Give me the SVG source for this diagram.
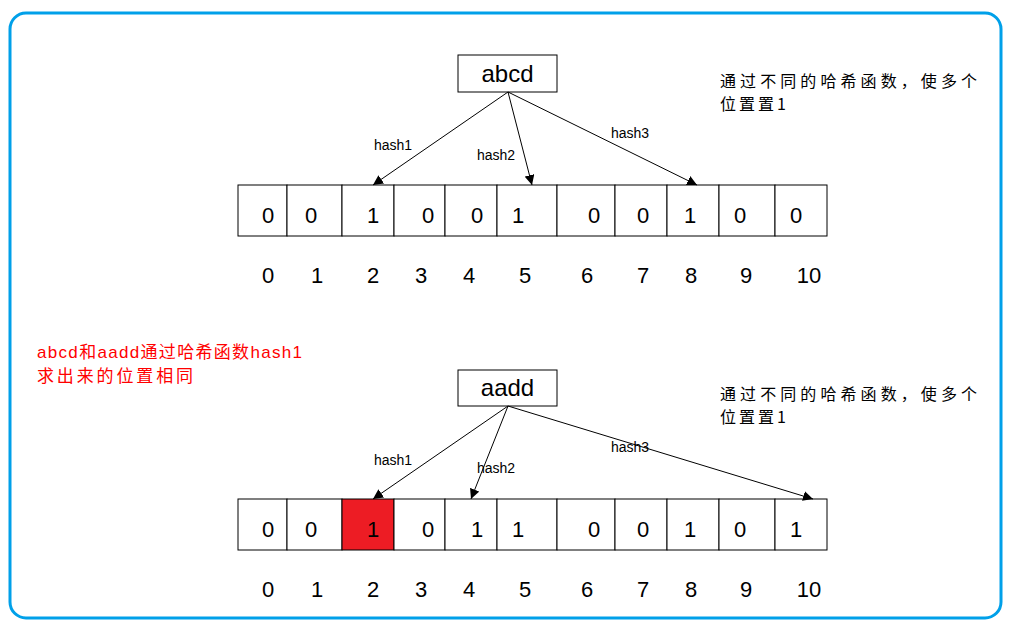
<svg xmlns="http://www.w3.org/2000/svg" width="1017" height="628" viewBox="0 0 1017 628">
<style>
.frame{fill:none;stroke:#00A0E9;stroke-width:3}
.box{fill:#fff;stroke:#000;stroke-width:1}
.cell{fill:#fff;stroke:#000;stroke-width:1}
.hot{fill:#ED1C24;stroke:#000;stroke-width:1}
.key{font-family:"Liberation Sans",Arial,sans-serif;font-size:24px;fill:#000;text-anchor:middle}
.val{font-family:"Liberation Sans",Arial,sans-serif;font-size:22px;fill:#000;text-anchor:middle}
.idx{font-family:"Liberation Sans",Arial,sans-serif;font-size:22px;fill:#000;text-anchor:middle}
.lbl{font-family:"Liberation Sans",Arial,sans-serif;font-size:14px;fill:#000}
.note{font-family:"Noto Sans CJK SC","Liberation Sans",sans-serif;font-size:16px;fill:#000}
.red{font-family:"Liberation Sans","Noto Sans CJK SC",sans-serif;font-size:17px;fill:#FF0000}
.conn{stroke:#000;stroke-width:1;fill:none;marker-end:url(#ah)}
</style>
<defs>
<marker id="ah" viewBox="0 0 10 10" refX="10" refY="5" markerWidth="10" markerHeight="10" markerUnits="userSpaceOnUse" orient="auto">
<path d="M0,0 L10,5 L0,10 z" fill="#000"/>
</marker>
</defs>
<rect x="0" y="0" width="1017" height="628" fill="#fff"/>
<rect class="frame" x="10" y="13" width="991" height="605" rx="16" ry="16"/>

<g id="note-red">
<text class="red" x="37" y="358" textLength="265" lengthAdjust="spacing">abcd和aadd通过哈希函数hash1</text>
<text class="red" x="37" y="382" textLength="156" lengthAdjust="spacing">求出来的位置相同</text>
</g>

<g id="key-abcd">
<rect class="box" x="458" y="55" width="99" height="37"/>
<text class="key" x="507.5" y="82">abcd</text>
</g>
<g id="note-1">
<text class="note" x="720" y="87" textLength="257" lengthAdjust="spacing">通过不同的哈希函数，使多个</text>
<text class="note" x="720" y="110" textLength="66" lengthAdjust="spacing">位置置1</text>
</g>

<g id="array-1">
<rect class="cell" x="238" y="185" width="49" height="51"/>
<rect class="cell" x="287" y="185" width="55" height="51"/>
<rect class="cell" x="342" y="185" width="52" height="51"/>
<rect class="cell" x="394" y="185" width="51" height="51"/>
<rect class="cell" x="445" y="185" width="52" height="51"/>
<rect class="cell" x="497" y="185" width="60" height="51"/>
<rect class="cell" x="557" y="185" width="58" height="51"/>
<rect class="cell" x="615" y="185" width="52" height="51"/>
<rect class="cell" x="667" y="185" width="52" height="51"/>
<rect class="cell" x="719" y="185" width="56" height="51"/>
<rect class="cell" x="775" y="185" width="52" height="51"/>
<text class="val" x="268" y="223">0</text>
<text class="val" x="311" y="223">0</text>
<text class="val" x="373" y="223">1</text>
<text class="val" x="428" y="223">0</text>
<text class="val" x="477" y="223">0</text>
<text class="val" x="518" y="223">1</text>
<text class="val" x="594" y="223">0</text>
<text class="val" x="643" y="223">0</text>
<text class="val" x="690" y="223">1</text>
<text class="val" x="740" y="223">0</text>
<text class="val" x="796" y="223">0</text>
</g>
<g id="index-1">
<text class="idx" x="268" y="283">0</text>
<text class="idx" x="317" y="283">1</text>
<text class="idx" x="373" y="283">2</text>
<text class="idx" x="421" y="283">3</text>
<text class="idx" x="469" y="283">4</text>
<text class="idx" x="525" y="283">5</text>
<text class="idx" x="587" y="283">6</text>
<text class="idx" x="643" y="283">7</text>
<text class="idx" x="691" y="283">8</text>
<text class="idx" x="746" y="283">9</text>
<text class="idx" x="809" y="283">10</text>
</g>

<g id="key-aadd">
<rect class="box" x="458" y="370" width="99" height="36"/>
<text class="key" x="507.5" y="396">aadd</text>
</g>
<g id="note-2">
<text class="note" x="720" y="400" textLength="257" lengthAdjust="spacing">通过不同的哈希函数，使多个</text>
<text class="note" x="720" y="423" textLength="66" lengthAdjust="spacing">位置置1</text>
</g>

<g id="array-2">
<rect class="cell" x="238" y="499" width="49" height="51"/>
<rect class="cell" x="287" y="499" width="55" height="51"/>
<rect class="hot" x="342" y="499" width="52" height="51"/>
<rect class="cell" x="394" y="499" width="51" height="51"/>
<rect class="cell" x="445" y="499" width="52" height="51"/>
<rect class="cell" x="497" y="499" width="60" height="51"/>
<rect class="cell" x="557" y="499" width="58" height="51"/>
<rect class="cell" x="615" y="499" width="52" height="51"/>
<rect class="cell" x="667" y="499" width="52" height="51"/>
<rect class="cell" x="719" y="499" width="56" height="51"/>
<rect class="cell" x="775" y="499" width="52" height="51"/>
<text class="val" x="268" y="537">0</text>
<text class="val" x="311" y="537">0</text>
<text class="val" x="373" y="537" fill="#555">1</text>
<text class="val" x="428" y="537">0</text>
<text class="val" x="477" y="537">1</text>
<text class="val" x="518" y="537">1</text>
<text class="val" x="594" y="537">0</text>
<text class="val" x="643" y="537">0</text>
<text class="val" x="690" y="537">1</text>
<text class="val" x="740" y="537">0</text>
<text class="val" x="796" y="537">1</text>
</g>
<g id="index-2">
<text class="idx" x="268" y="597">0</text>
<text class="idx" x="317" y="597">1</text>
<text class="idx" x="373" y="597">2</text>
<text class="idx" x="421" y="597">3</text>
<text class="idx" x="469" y="597">4</text>
<text class="idx" x="525" y="597">5</text>
<text class="idx" x="587" y="597">6</text>
<text class="idx" x="643" y="597">7</text>
<text class="idx" x="691" y="597">8</text>
<text class="idx" x="746" y="597">9</text>
<text class="idx" x="809" y="597">10</text>
</g>

<g id="connectors">
<line class="conn" x1="508" y1="92" x2="373" y2="185"/>
<line class="conn" x1="508" y1="92" x2="532" y2="185"/>
<line class="conn" x1="508" y1="92" x2="697" y2="185"/>
<line class="conn" x1="508" y1="406" x2="373" y2="499"/>
<line class="conn" x1="508" y1="406" x2="471" y2="499"/>
<line class="conn" x1="508" y1="406" x2="813" y2="499"/>
<text class="lbl" x="374" y="150">hash1</text>
<text class="lbl" x="477" y="160">hash2</text>
<text class="lbl" x="611" y="138">hash3</text>
<text class="lbl" x="374" y="465">hash1</text>
<text class="lbl" x="477" y="473">hash2</text>
<text class="lbl" x="611" y="452">hash3</text>
</g>
</svg>
